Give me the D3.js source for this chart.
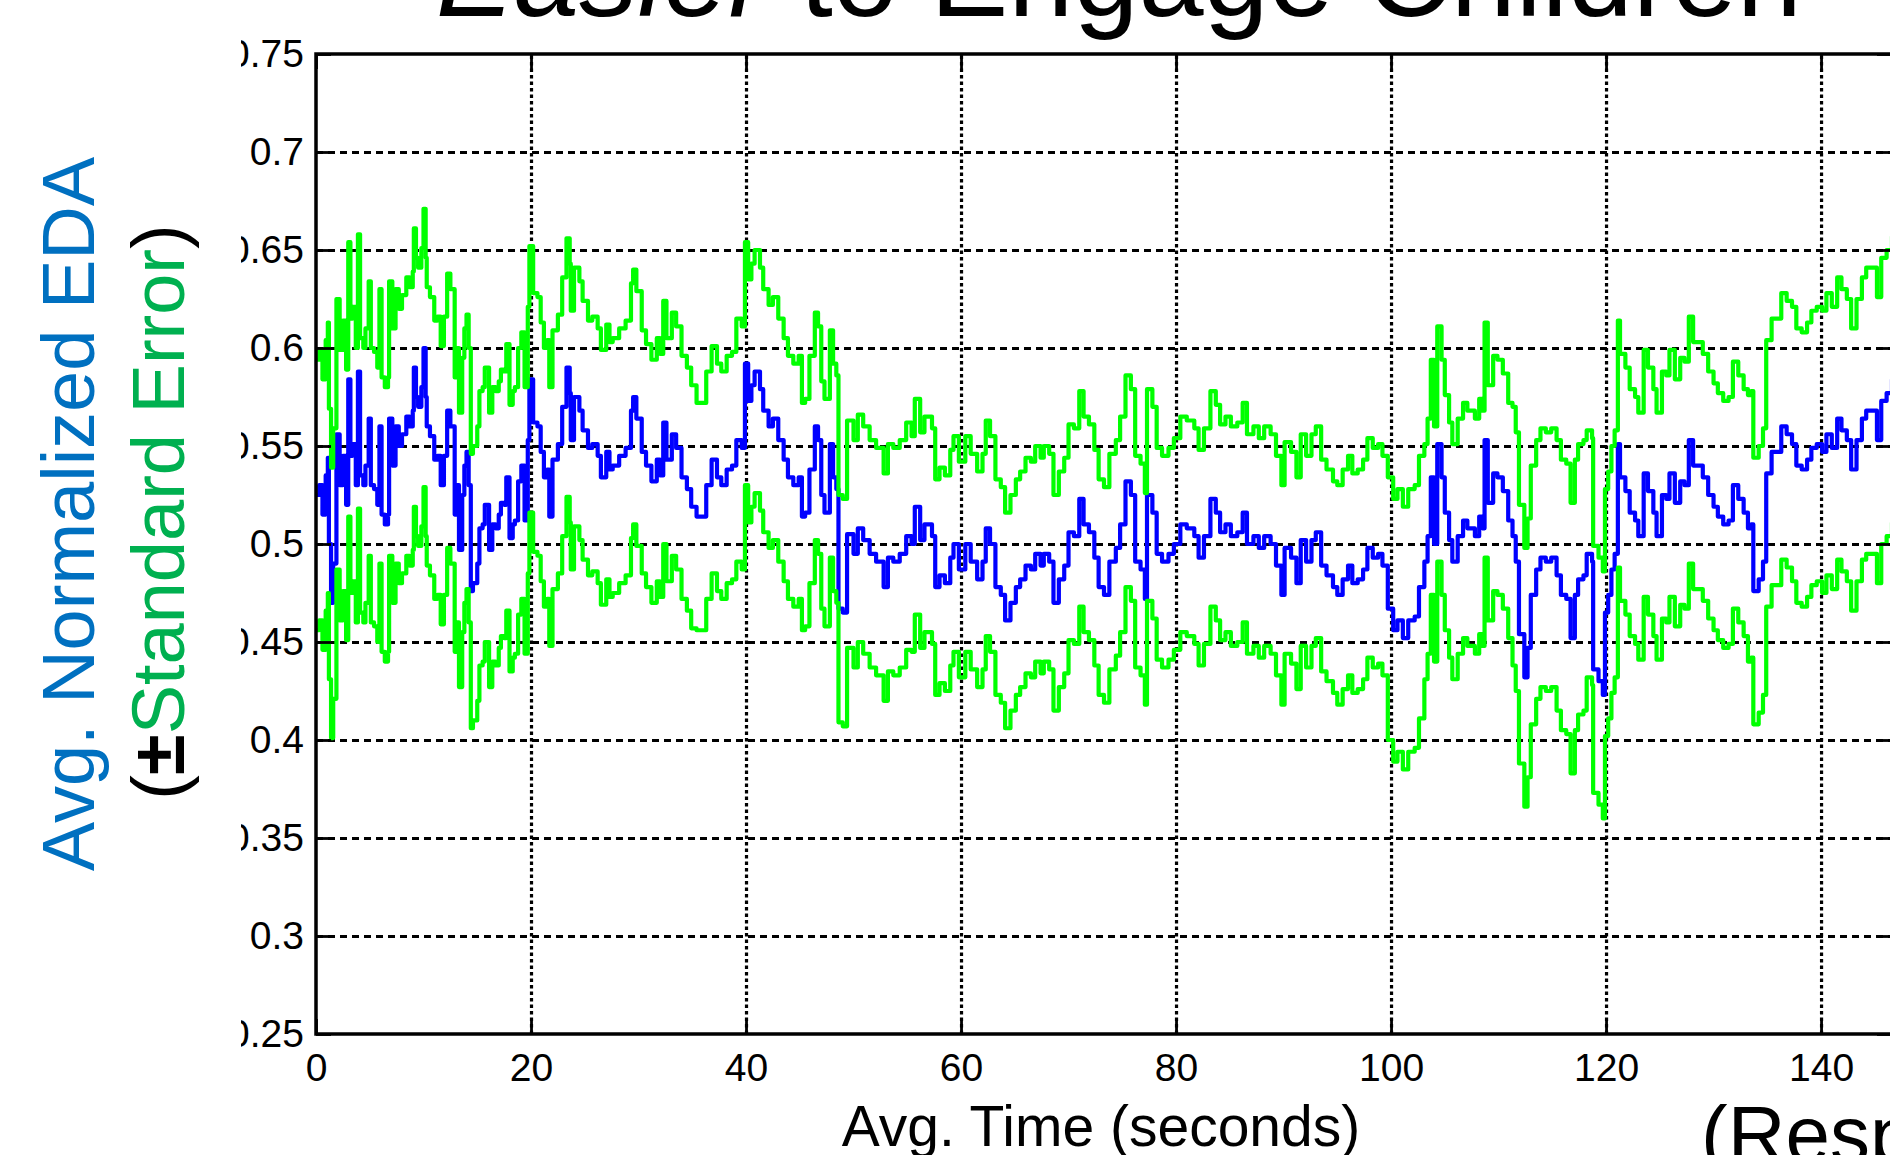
<!DOCTYPE html>
<html>
<head>
<meta charset="utf-8">
<script src="https://cdn.jsdelivr.net/npm/d3@7/dist/d3.min.js"></script>
<style>
  html, body { margin: 0; padding: 0; background: #fff; overflow: hidden; }
  svg { display: block; font-family: "Liberation Sans", Arial, Helvetica, sans-serif; }
</style>
</head>
<body>
<svg id="chart" width="1890" height="1155"></svg>
<script>
/* avg. normalized EDA, [seconds, value] */
const meanEDA = [
  [0, 0.525], [0.3, 0.53], [0.6, 0.515], [0.9, 0.535], [1.1, 0.544], [1.2, 0.5], [1.4, 0.47], [1.6, 0.49],
  [1.9, 0.556], [2.2, 0.53], [2.5, 0.545], [2.8, 0.52], [3.0, 0.584], [3.2, 0.545], [3.4, 0.551],
  [3.7, 0.53], [3.9, 0.588], [4.1, 0.535], [4.4, 0.53], [4.6, 0.54], [4.9, 0.564], [5.1, 0.53],
  [5.4, 0.528], [5.7, 0.52], [5.9, 0.56], [6.1, 0.515], [6.4, 0.51], [6.7, 0.515], [6.8, 0.564],
  [7.1, 0.54], [7.4, 0.56], [7.7, 0.55], [8.0, 0.556], [8.4, 0.565], [8.7, 0.56], [9.0, 0.568],
  [9.1, 0.59], [9.3, 0.575], [9.5, 0.57], [9.8, 0.58], [10.0, 0.6], [10.2, 0.575], [10.3, 0.56],
  [10.6, 0.555], [11.0, 0.543], [11.3, 0.545], [11.6, 0.53], [11.9, 0.545], [12.2, 0.568],
  [12.5, 0.56], [12.9, 0.515], [13.1, 0.53], [13.3, 0.497], [13.6, 0.525], [13.8, 0.54],
  [14.0, 0.547], [14.2, 0.53], [14.4, 0.476], [14.6, 0.48], [15.0, 0.49], [15.2, 0.508],
  [15.5, 0.51], [15.7, 0.52], [16.1, 0.497], [16.4, 0.51], [16.7, 0.508], [17.0, 0.515],
  [17.2, 0.521], [17.5, 0.52], [17.7, 0.534], [18.0, 0.503], [18.3, 0.51], [18.5, 0.512],
  [18.8, 0.532], [19.1, 0.54], [19.4, 0.512], [19.7, 0.553], [19.85, 0.584], [20.2, 0.562],
  [20.6, 0.56], [20.9, 0.547], [21.2, 0.534], [21.5, 0.538], [21.7, 0.514], [22.0, 0.543],
  [22.5, 0.551], [22.9, 0.57], [23.3, 0.59], [23.6, 0.577], [23.7, 0.553], [24.0, 0.575],
  [24.5, 0.568], [24.8, 0.558], [25.3, 0.549], [25.7, 0.551], [26.2, 0.545], [26.5, 0.534],
  [27.0, 0.547], [27.3, 0.538], [27.6, 0.54], [28.2, 0.545], [28.8, 0.549], [29.3, 0.568],
  [29.5, 0.575], [29.8, 0.564], [30.3, 0.547], [30.7, 0.54], [31.2, 0.532], [31.7, 0.543],
  [32.0, 0.535], [32.3, 0.562], [32.6, 0.543], [33.1, 0.556], [33.5, 0.549], [34.0, 0.534],
  [34.5, 0.528], [34.9, 0.519], [35.4, 0.514], [35.9, 0.514], [36.3, 0.53], [36.8, 0.543],
  [37.3, 0.534], [37.7, 0.53], [38.2, 0.538], [38.7, 0.54], [39.1, 0.553], [39.6, 0.549],
  [39.9, 0.592], [40.2, 0.573], [40.5, 0.581], [40.8, 0.588], [41.3, 0.579], [41.6, 0.568],
  [42.1, 0.56], [42.5, 0.564], [43.0, 0.553], [43.5, 0.543], [43.9, 0.534], [44.4, 0.53],
  [44.9, 0.534], [45.2, 0.514], [45.5, 0.516], [45.9, 0.538], [46.4, 0.56], [46.7, 0.553],
  [47.0, 0.525], [47.3, 0.516], [47.8, 0.551], [48.1, 0.534], [48.4, 0.528], [48.6, 0.467],
  [49.0, 0.465], [49.4, 0.505], [50.0, 0.495], [50.4, 0.508], [50.9, 0.502], [51.5, 0.495],
  [52.1, 0.491], [52.8, 0.478], [53.2, 0.493], [53.7, 0.491], [54.3, 0.495], [54.9, 0.504],
  [55.4, 0.5], [55.7, 0.519], [56.2, 0.502], [56.6, 0.51], [57.3, 0.504], [57.6, 0.478],
  [58.0, 0.484], [58.5, 0.48], [59.0, 0.493], [59.3, 0.5], [59.8, 0.487], [60.4, 0.5],
  [60.9, 0.491], [61.5, 0.482], [62.0, 0.491], [62.3, 0.508], [62.7, 0.5], [63.2, 0.478],
  [63.7, 0.474], [64.1, 0.461], [64.6, 0.47], [65.1, 0.478], [65.5, 0.482], [66.0, 0.489],
  [66.5, 0.487], [66.9, 0.495], [67.4, 0.489], [67.7, 0.495], [68.2, 0.491], [68.6, 0.47],
  [69.1, 0.482], [69.6, 0.489], [70.0, 0.506], [70.5, 0.504], [71.0, 0.523], [71.4, 0.51],
  [71.9, 0.506], [72.4, 0.493], [72.8, 0.478], [73.3, 0.474], [73.8, 0.491], [74.4, 0.498],
  [74.8, 0.51], [75.3, 0.532], [75.8, 0.525], [76.2, 0.491], [76.7, 0.487], [77.1, 0.472],
  [77.3, 0.525], [77.8, 0.516], [78.2, 0.495], [78.7, 0.491], [79.3, 0.495], [79.8, 0.5],
  [80.4, 0.51], [81.0, 0.508], [81.7, 0.504], [82.1, 0.493], [82.6, 0.504], [83.2, 0.523],
  [83.7, 0.516], [84.1, 0.506], [84.6, 0.51], [85.1, 0.504], [85.7, 0.506], [86.2, 0.516],
  [86.6, 0.5], [87.2, 0.504], [87.7, 0.498], [88.2, 0.504], [88.8, 0.5], [89.3, 0.489],
  [89.8, 0.474], [90.1, 0.498], [90.7, 0.493], [91.2, 0.48], [91.6, 0.502], [92.1, 0.491],
  [92.6, 0.502], [93.0, 0.506], [93.5, 0.489], [94.0, 0.484], [94.6, 0.478], [95.0, 0.474],
  [95.5, 0.482], [96.0, 0.489], [96.4, 0.48], [96.9, 0.482], [97.4, 0.487], [97.8, 0.498],
  [98.3, 0.493], [98.8, 0.495], [99.2, 0.489], [99.7, 0.467], [100.2, 0.456], [100.6, 0.461],
  [101.1, 0.452], [101.6, 0.461], [102.2, 0.463], [102.6, 0.478], [103.1, 0.491], [103.4, 0.504],
  [103.7, 0.534], [104.0, 0.5], [104.3, 0.551], [104.7, 0.534], [105.0, 0.516], [105.4, 0.502],
  [105.7, 0.491], [106.2, 0.504], [106.7, 0.512], [107.1, 0.508], [107.8, 0.504], [108.2, 0.514],
  [108.5, 0.508], [108.7, 0.553], [109.0, 0.521], [109.5, 0.536], [109.9, 0.534], [110.4, 0.527],
  [110.9, 0.512], [111.3, 0.504], [111.6, 0.491], [111.9, 0.454], [112.4, 0.432], [112.7, 0.447],
  [113.0, 0.474], [113.5, 0.487], [113.9, 0.493], [114.4, 0.491], [114.9, 0.493], [115.4, 0.484],
  [115.8, 0.474], [116.3, 0.472], [116.7, 0.452], [117.1, 0.474], [117.4, 0.482], [117.9, 0.484],
  [118.2, 0.495], [118.7, 0.491], [118.8, 0.436], [119.3, 0.43], [119.7, 0.423], [119.9, 0.465],
  [120.2, 0.474], [120.5, 0.487], [120.8, 0.495], [121.1, 0.551], [121.3, 0.534], [121.8, 0.527],
  [122.2, 0.516], [122.7, 0.512], [123.0, 0.504], [123.5, 0.536], [123.9, 0.527], [124.4, 0.516],
  [124.7, 0.504], [125.2, 0.525], [125.6, 0.523], [125.9, 0.536], [126.4, 0.521], [126.9, 0.532],
  [127.3, 0.53], [127.7, 0.553], [128.1, 0.54], [128.6, 0.54], [129.0, 0.534], [129.5, 0.525],
  [130.0, 0.519], [130.4, 0.514], [130.9, 0.51], [131.4, 0.512], [131.8, 0.53], [132.3, 0.523],
  [132.8, 0.516], [133.2, 0.508], [133.5, 0.51], [133.7, 0.476], [134.2, 0.482], [134.6, 0.491],
  [134.9, 0.536], [135.4, 0.547], [135.9, 0.547], [136.3, 0.56], [136.8, 0.556], [137.3, 0.551],
  [137.7, 0.54], [138.2, 0.538], [138.7, 0.543], [139.1, 0.549], [139.6, 0.551], [140.1, 0.547],
  [140.5, 0.556], [141.0, 0.549], [141.5, 0.564], [141.9, 0.558], [142.4, 0.553], [142.8, 0.538],
  [143.3, 0.553], [143.8, 0.564], [144.2, 0.568], [144.7, 0.568], [145.2, 0.553], [145.6, 0.573],
  [146.1, 0.577], [146.6, 0.584],
];

/* standard error, [from second, value] - holds until the next entry */
const stdErr = [
  [0, 0.069], [3, 0.07], [8, 0.071], [12, 0.07], [17, 0.068], [20, 0.066], [25, 0.065],
  [30, 0.062], [35, 0.058], [39, 0.062], [45, 0.058], [50, 0.058], [55, 0.055], [75, 0.054],
  [80, 0.055], [85, 0.056], [90, 0.054], [95, 0.056], [99.5, 0.067], [103, 0.06], [107, 0.06],
  [111, 0.066], [115, 0.069], [118, 0.063], [127, 0.063], [133, 0.068], [137, 0.07],
  [140, 0.072], [144, 0.073],
];

const xTicks = [0, 20, 40, 60, 80, 100, 120, 140];
const yTicks = [0.25, 0.3, 0.35, 0.4, 0.45, 0.5, 0.55, 0.6, 0.65, 0.7, 0.75];

const width = 1890;
const height = 1155;
const plot = { left: 316, right: 1892, top: 54, bottom: 1034 };
const tickLen = 15;

const x = d3.scaleLinear().domain([0, 146.6]).range([plot.left, plot.right]);
const y = d3.scaleLinear().domain([0.25, 0.75]).range([plot.bottom, plot.top]);

const svg = d3.select('#chart');
svg.append('rect').attr('width', width).attr('height', height).attr('fill', '#fff');

const defs = svg.append('defs');
defs.append('clipPath').attr('id', 'plot-clip').append('rect')
  .attr('x', plot.left).attr('y', plot.top)
  .attr('width', plot.right - plot.left).attr('height', plot.bottom - plot.top);
// the y label panel hides the left part of the tick labels
defs.append('clipPath').attr('id', 'label-clip').append('rect')
  .attr('x', 241).attr('y', 0).attr('width', width).attr('height', height);

/* dotted grid */
svg.append('g')
  .attr('transform', `translate(${plot.left},0)`)
  .call(d3.axisLeft(y).tickValues(yTicks.slice(1, -1)).tickSize(-(plot.right - plot.left)).tickFormat(''))
  .call((g) => g.select('.domain').remove())
  .selectAll('line')
  .attr('stroke', '#000').attr('stroke-width', 3).attr('stroke-dasharray', '7,5');

svg.append('g')
  .attr('transform', `translate(0,${plot.bottom})`)
  .call(d3.axisBottom(x).tickValues(xTicks.slice(1)).tickSize(-(plot.bottom - plot.top)).tickFormat(''))
  .call((g) => g.select('.domain').remove())
  .selectAll('line')
  .attr('stroke', '#000').attr('stroke-width', 3.2).attr('stroke-dasharray', '3.5,3');

/* series */
const seAt = (t) => {
  let v = stdErr[0][1];
  stdErr.forEach((s) => { if (s[0] <= t) v = s[1]; });
  return v;
};
const upper = meanEDA.map((d) => [d[0], d[1] + seAt(d[0])]);
const lower = meanEDA.map((d) => [d[0], d[1] - seAt(d[0])]);

const line = d3.line().curve(d3.curveStepAfter).x((d) => x(d[0])).y((d) => y(d[1]));
const lines = svg.append('g').attr('clip-path', 'url(#plot-clip)')
  .attr('fill', 'none').attr('stroke-width', 4.2).attr('stroke-linejoin', 'round');
lines.append('path').attr('d', line(meanEDA)).attr('stroke', '#0000ff');
lines.append('path').attr('d', line(upper)).attr('stroke', '#00ff00');
lines.append('path').attr('d', line(lower)).attr('stroke', '#00ff00');

/* axes box with inward ticks */
const axisStyle = (g) => {
  g.select('.domain').remove();
  g.selectAll('line').attr('stroke', '#000').attr('stroke-width', 2.8);
  g.selectAll('text').attr('fill', '#000').attr('font-size', 39)
    .attr('font-family', '"Liberation Sans", Arial, sans-serif');
};

svg.append('g')
  .attr('clip-path', 'url(#label-clip)')
  .append('g')
  .attr('transform', `translate(${plot.left},0)`)
  .call(d3.axisLeft(y).tickValues(yTicks).tickSize(-tickLen).tickSizeOuter(0)
    .tickPadding(12).tickFormat(d3.format('~g')))
  .call(axisStyle);

svg.append('g')
  .attr('transform', `translate(0,${plot.bottom})`)
  .call(d3.axisBottom(x).tickValues(xTicks).tickSize(-tickLen).tickSizeOuter(0)
    .tickPadding(10).tickFormat(d3.format('~g')))
  .call(axisStyle)
  .selectAll('text').attr('dy', '0.95em');

svg.append('g')
  .attr('transform', `translate(0,${plot.top})`)
  .call(d3.axisTop(x).tickValues(xTicks).tickSize(-tickLen).tickSizeOuter(0).tickFormat(''))
  .call(axisStyle);

svg.append('g')
  .attr('transform', `translate(${plot.right},0)`)
  .call(d3.axisRight(y).tickValues(yTicks).tickSize(-tickLen).tickSizeOuter(0).tickFormat(''))
  .call(axisStyle);

svg.append('rect')
  .attr('x', plot.left).attr('y', plot.top)
  .attr('width', plot.right - plot.left).attr('height', plot.bottom - plot.top)
  .attr('fill', 'none').attr('stroke', '#000').attr('stroke-width', 3.5);

/* texts */
const title = svg.append('text')
  .attr('x', 1119).attr('y', 16)
  .attr('text-anchor', 'middle').attr('font-size', 117).attr('fill', '#000');
title.append('tspan').attr('font-style', 'italic').text('Easier');
title.append('tspan').text(' to Engage Children');

svg.append('text')
  .attr('x', 1101).attr('y', 1146)
  .attr('text-anchor', 'middle').attr('font-size', 57).attr('fill', '#000')
  .text('Avg. Time (seconds)');

svg.append('text')
  .attr('x', 1701).attr('y', 1162)
  .attr('font-size', 80).attr('fill', '#000')
  .text('(Response)');

svg.append('text')
  .attr('transform', 'translate(94,514) rotate(-90)')
  .attr('text-anchor', 'middle').attr('font-size', 74).attr('fill', '#0070c0')
  .text('Avg. Normalized EDA');

const seLabel = svg.append('text')
  .attr('transform', 'translate(184,512) rotate(-90)')
  .attr('text-anchor', 'middle').attr('font-size', 74).attr('fill', '#000');
seLabel.append('tspan').text('(');
seLabel.append('tspan').attr('font-weight', 'bold').text('±');
seLabel.append('tspan').attr('fill', '#00b050').text('Standard Error');
seLabel.append('tspan').text(')');
</script>
</body>
</html>
